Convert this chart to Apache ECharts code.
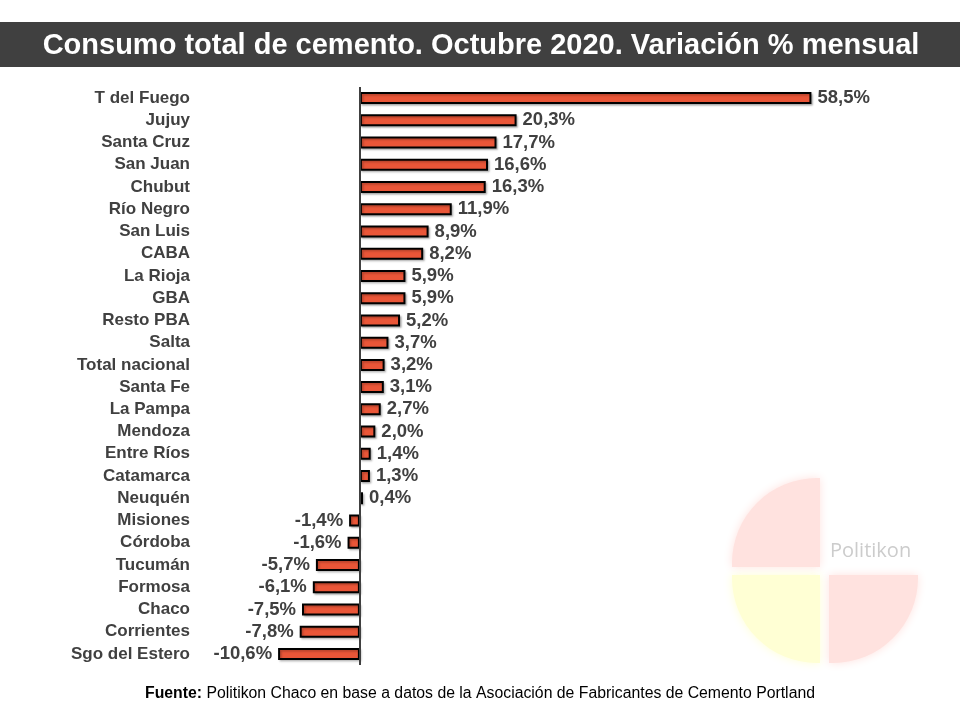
<!DOCTYPE html>
<html><head><meta charset="utf-8">
<script src="https://cdn.jsdelivr.net/npm/echarts@6/dist/echarts.min.js"></script>
<style>html,body{margin:0;padding:0;background:#fff}#c{width:960px;height:720px}</style>
</head><body><div id="c"></div>
<script>
const categories = ['T del Fuego','Jujuy','Santa Cruz','San Juan','Chubut','Río Negro','San Luis','CABA','La Rioja','GBA','Resto PBA','Salta','Total nacional','Santa Fe','La Pampa','Mendoza','Entre Ríos','Catamarca','Neuquén','Misiones','Córdoba','Tucumán','Formosa','Chaco','Corrientes','Sgo del Estero'];
const values = [58.5,20.3,17.7,16.6,16.3,11.9,8.9,8.2,5.9,5.9,5.2,3.7,3.2,3.1,2.7,2.0,1.4,1.3,0.4,-1.4,-1.6,-5.7,-6.1,-7.5,-7.8,-10.6];
const titleText = 'Consumo total de cemento. Octubre 2020. Variación % mensual';
const sourceBold = 'Fuente:';
const sourceText = ' Politikon Chaco en base a datos de la Asociación de Fabricantes de Cemento Portland';

const chart = echarts.init(document.getElementById('c'));
const txt = '#404040';
const fmt = v => v.toFixed(1).replace('.', ',') + '%';
chart.setOption({
  animation: false,
  grid: {left: 275, right: 137, top: 87, bottom: 55},
  xAxis: {type: 'value', min: -11, max: 60, show: false},
  yAxis: {
    type: 'category', data: categories, inverse: true,
    axisLine: {show: false}, axisTick: {show: false},
    axisLabel: {margin: 85, color: txt, fontFamily: 'Liberation Sans, Arial, sans-serif', fontWeight: 'bold', fontSize: 17}
  },
  graphic: [
    {type: 'rect', left: 732, top: 478, shape: {width: 88, height: 89, r: [85, 0, 0, 0]}, style: {fill: '#ffe2df', shadowBlur: 10, shadowColor: '#ffe2df'}, z: -10},
    {type: 'rect', left: 732, top: 575, shape: {width: 88, height: 88, r: [0, 0, 0, 85]}, style: {fill: '#ffffd4', shadowBlur: 10, shadowColor: '#ffffd4'}, z: -10},
    {type: 'rect', left: 829, top: 575, shape: {width: 89, height: 88, r: [0, 0, 85, 0]}, style: {fill: '#ffe2df', shadowBlur: 10, shadowColor: '#ffe2df'}, z: -10},
    {type: 'text', x: 830, y: 551, style: {text: 'Politikon', fill: '#cccccc', verticalAlign: 'middle', font: '500 20px "Open Sans", sans-serif'}, z: -9},
    {type: 'rect', left: 0, top: 22, shape: {width: 960, height: 45}, style: {fill: '#404040'}},
    {type: 'text', x: 481, y: 46, style: {text: titleText, fill: '#ffffff', align: 'center', verticalAlign: 'middle', font: 'bold 29px "Liberation Sans", Arial, sans-serif'}},
    {type: 'text', x: 480, y: 694, style: {
      text: '{b|' + sourceBold + '}{n|' + sourceText + '}', align: 'center', verticalAlign: 'middle',
      rich: {b: {font: 'bold 15.8px "Liberation Sans", Arial, sans-serif', fill: '#000'}, n: {font: '15.8px "Liberation Sans", Arial, sans-serif', fill: '#000'}}
    }}
  ],
  series: [{
    type: 'bar', barWidth: 12,
    data: values.map(v => ({value: v, label: {position: v >= 0 ? 'right' : 'left'}})),
    itemStyle: {color: '#ea5638', borderColor: '#000', borderWidth: 2, shadowColor: 'rgba(0,0,0,0.25)', shadowBlur: 2, shadowOffsetX: 1.5, shadowOffsetY: 1.5},
    label: {show: true, distance: 6, color: txt, fontFamily: 'Liberation Sans, Arial, sans-serif', fontWeight: 'bold', fontSize: 18.5, formatter: p => fmt(p.value)},
    markLine: {silent: true, symbol: 'none', label: {show: false}, lineStyle: {color: '#404040', width: 2, type: 'solid'}, data: [{xAxis: 0}]}
  }]
});
</script></body></html>
